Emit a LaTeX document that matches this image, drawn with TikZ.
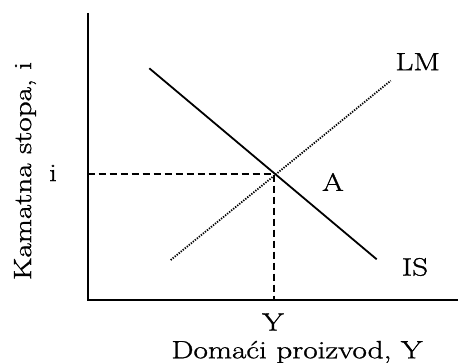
\documentclass[tikz,border=0pt]{standalone}
\usepackage{fontspec}
\setmainfont{Latin Modern Roman}[FakeStretch=1.25,FakeBold=1.2]
\begin{document}
\begin{tikzpicture}[x=1pt,y=-1pt,
  lbl/.style={inner sep=0pt,font=\fontsize{25}{29}\selectfont},
  axis/.style={line width=2.3pt},
  curve/.style={line width=1.8pt},
  guide/.style={line width=1.7pt,dash pattern=on 7pt off 4pt},
  dotline/.style={line width=1.8pt,dash pattern=on 1.3pt off 1.3pt}]
\useasboundingbox (0,0) rectangle (458,363);
\coordinate (O) at (87.7,300);
\coordinate (Ytop) at (87.7,13);
\coordinate (Xend) at (458,300);
\coordinate (ISs) at (149.3,68.3);
\coordinate (ISe) at (376.7,259.3);
\coordinate (LMs) at (170.7,260);
\coordinate (LMe) at (390.7,80.7);
\coordinate (A) at (274,174);
\coordinate (Ai) at (87.7,174);
\coordinate (AY) at (274,300);
\draw[axis] (Ytop) -- (O) -- (Xend);
\draw[curve] (ISs) -- (ISe);
\draw[dotline] (LMs) -- (LMe);
\draw[guide] (Ai) -- (A) -- (AY);
\node[lbl] (li) at (53,173) {i};
\node[lbl] (lA) at (333,182) {A};
\node[lbl] (lLM) at (417.7,61.7) {LM};
\node[lbl] (lIS) at (415,267) {IS};
\node[lbl] (lY) at (273,322) {Y};
\node[lbl] (lx) at (297,352) {Domaći proizvod, Y};
\node[lbl,rotate=90] (ly) at (25,171) {Kamatna stopa, i};
\end{tikzpicture}
\end{document}
